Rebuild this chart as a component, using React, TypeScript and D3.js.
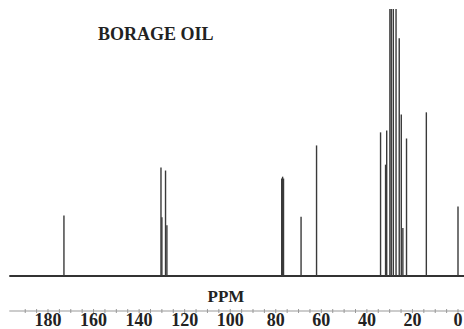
import * as d3 from 'd3'
import { useEffect, useRef } from 'react'

// peak positions (ppm) and heights (% of plot height)
const shifts = [
  173.0, 130.4, 130.0, 128.4, 127.8, 77.4, 77.0, 76.6, 68.9, 62.1,
  34.0, 31.8, 31.3, 29.9, 29.3, 28.4, 27.2, 25.8, 24.9, 24.2, 22.6, 13.9, 0.0,
]
const heights = [
  22.7, 40.6, 22.0, 39.5, 19.0, 36.5, 37.2, 36.5, 22.2, 48.9,
  53.8, 41.7, 54.5, 100, 100, 100, 100, 89.0, 60.5, 18.0, 51.5, 61.3, 26.0,
]
const tickLabels = [180, 160, 140, 120, 100, 80, 60, 40, 20, 0]

const App = () => {
  const ref = useRef<SVGSVGElement | null>(null)

  useEffect(() => {
    if (!ref.current) return
    const width = 464
    const height = 329
    const svg = d3.select(ref.current)
    svg.selectAll('*').remove()
    svg.attr('width', width).attr('height', height)

    const x = d3.scaleLinear().domain([180, 0]).range([48, 458])
    const y = d3.scaleLinear().domain([0, 100]).range([276, 9])

    const serif = '"Liberation Serif", "DejaVu Serif", serif'

    // baseline
    svg
      .append('line')
      .attr('x1', x(197))
      .attr('x2', x(-3))
      .attr('y1', y(0))
      .attr('y2', y(0))
      .attr('stroke', '#333')
      .attr('stroke-width', 2)

    // peaks
    const peaks = shifts.map((s, i) => ({ s, h: heights[i] }))
    svg
      .selectAll('line.peak')
      .data(peaks)
      .enter()
      .append('line')
      .attr('class', 'peak')
      .attr('x1', (d) => x(d.s))
      .attr('x2', (d) => x(d.s))
      .attr('y1', y(0))
      .attr('y2', (d) => y(d.h))
      .attr('stroke', '#3a3a3a')
      .attr('stroke-width', 1.4)

    // ppm axis
    const axisY = 311
    svg
      .append('line')
      .attr('x1', x(197))
      .attr('x2', x(-3))
      .attr('y1', axisY)
      .attr('y2', axisY)
      .attr('stroke', '#999')
      .attr('stroke-width', 1.2)

    svg
      .selectAll('line.minor')
      .data(d3.range(0, 195, 5))
      .enter()
      .append('line')
      .attr('class', 'minor')
      .attr('x1', (d) => x(d))
      .attr('x2', (d) => x(d))
      .attr('y1', axisY - 2)
      .attr('y2', axisY + 2)
      .attr('stroke', '#999')
      .attr('stroke-width', 1)

    svg
      .selectAll('text.tick')
      .data(tickLabels)
      .enter()
      .append('text')
      .attr('class', 'tick')
      .attr('x', (d) => x(d))
      .attr('y', 326)
      .attr('text-anchor', 'middle')
      .attr('font-family', serif)
      .attr('font-weight', 'bold')
      .attr('font-size', 18)
      .attr('fill', '#222')
      .text((d) => `${d}`)

    svg
      .append('text')
      .attr('x', 226)
      .attr('y', 302)
      .attr('text-anchor', 'middle')
      .attr('font-family', serif)
      .attr('font-weight', 'bold')
      .attr('font-size', 17)
      .attr('fill', '#222')
      .text('PPM')

    svg
      .append('text')
      .attr('x', 98)
      .attr('y', 40)
      .attr('font-family', serif)
      .attr('font-weight', 'bold')
      .attr('font-size', 18)
      .attr('fill', '#222')
      .text('BORAGE OIL')
  }, [])

  return <svg ref={ref} style={{ position: 'absolute', left: 0, top: 0 }} />
}

export default App
